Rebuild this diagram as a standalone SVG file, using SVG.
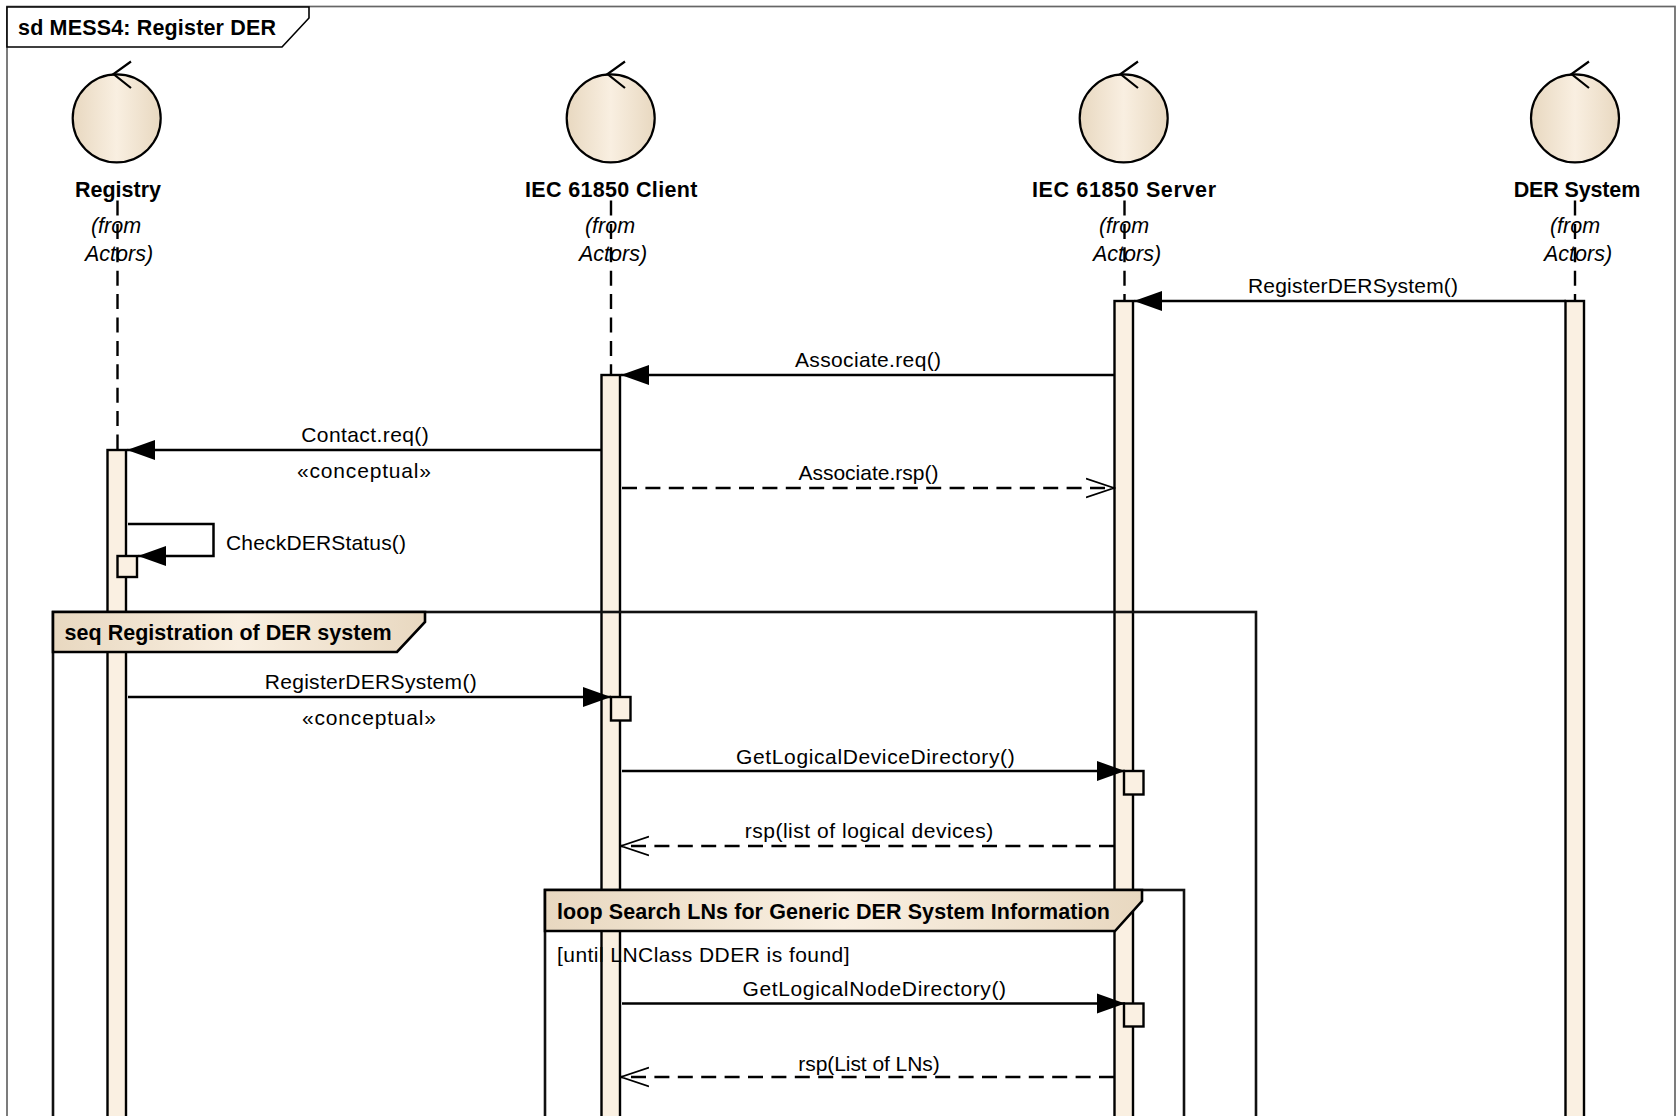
<svg xmlns="http://www.w3.org/2000/svg" width="1680" height="1116" viewBox="0 0 1680 1116">
<defs>
<linearGradient id="g"><stop offset="0" stop-color="#e8d8c0"/><stop offset="0.5" stop-color="#f9efe1"/><stop offset="1" stop-color="#e8d8c0"/></linearGradient>
<marker id="solid" markerUnits="userSpaceOnUse" markerWidth="30" markerHeight="24" refX="28" refY="11" orient="auto"><path d="M0 1 L28 11 L0 21 Z" fill="#000"/></marker>
<marker id="open" markerUnits="userSpaceOnUse" markerWidth="30" markerHeight="24" refX="28" refY="11" orient="auto"><path d="M0 1.500 L28 11 L0 20.500" fill="none" stroke="#000" stroke-width="1.700"/></marker>
</defs>
<style>
text{font-family:"Liberation Sans",Arial,sans-serif;fill:#000}
.t{font-size:21px}
.b{font-size:21.500px;font-weight:bold}
.i{font-size:21.500px;font-style:italic;text-anchor:middle}
.n{font-weight:bold;font-size:21.500px;text-anchor:middle}
.m{text-anchor:middle;font-size:21px}
.act{fill:#faf0e2;stroke:#000;stroke-width:2.400}
.ll{stroke:#000;stroke-width:2.400;stroke-dasharray:15 8.400;fill:none}
.msg{stroke:#000;stroke-width:2.500;fill:none;marker-end:url(#solid)}
.ret{stroke:#000;stroke-width:2.400;fill:none;stroke-dasharray:15 8.400;marker-end:url(#open)}
.hd{fill:url(#g);stroke:#000;stroke-width:2.600}
.fr{fill:none;stroke:#111;stroke-width:2.600}
.c{fill:url(#g);stroke:#000;stroke-width:2.200}
.a{stroke:#000;stroke-width:2.200;fill:none}
</style>
<rect x="7" y="6.500" width="1668" height="1125" fill="#fff" stroke="#666" stroke-width="1.700"/>
<g id="frame-sd"><path d="M7 7 H309 V18 L282 47 H7 Z" fill="#fff" stroke="#000" stroke-width="1.600"/><text x="18" y="35" class="b" textLength="258">sd MESS4: Register DER</text></g>

<g id="lifelines">
<path class="ll" d="M117.500 200.500V450"/><path class="ll" d="M611 200.500V375"/><path class="ll" d="M1124.500 200.500V301"/><path class="ll" d="M1575 200.500V301"/>
<rect class="act" x="107.500" y="450" width="18.500" height="700"/>
<rect class="act" x="601.500" y="375" width="18.500" height="770"/>
<rect class="act" x="1114.500" y="301" width="18.500" height="840"/>
<rect class="act" x="1565.500" y="301" width="18.500" height="840"/>
</g>

<g id="registry"><circle class="c" cx="116.700" cy="118.300" r="44"/><path class="a" d="M131 61.500 L113.500 74 L131 88"/><text class="n" x="118" y="197" textLength="86">Registry</text><text class="i" x="116" y="233">(from</text><text class="i" x="119" y="261">Actors)</text></g>
<g id="client"><circle class="c" cx="610.700" cy="118.300" r="44"/><path class="a" d="M625 61.500 L607.500 74 L625 88"/><text class="n" x="611.200" y="197" textLength="172.500">IEC 61850 Client</text><text class="i" x="610" y="233">(from</text><text class="i" x="613" y="261">Actors)</text></g>
<g id="server"><circle class="c" cx="1123.700" cy="118.300" r="44"/><path class="a" d="M1138 61.500 L1120.500 74 L1138 88"/><text class="n" x="1124" y="197" textLength="184">IEC 61850 Server</text><text class="i" x="1124" y="233">(from</text><text class="i" x="1127" y="261">Actors)</text></g>
<g id="der"><circle class="c" cx="1575" cy="118.300" r="44"/><path class="a" d="M1589 61.500 L1571.500 74 L1589 88"/><text class="n" x="1577" y="197" textLength="126.500">DER System</text><text class="i" x="1575" y="233">(from</text><text class="i" x="1578" y="261">Actors)</text></g>

<g id="seq-frame"><rect class="fr" x="53" y="612" width="1203" height="600"/><path class="hd" d="M53 612 H425 V622 L397 652 H53 Z"/><text x="64.500" y="640" class="b" textLength="327">seq Registration of DER system</text></g>

<g id="connectors">
<path class="msg" d="M1566 301H1134"/>
<path class="msg" d="M1114 375H621"/>
<path class="msg" d="M601 450H127"/>
<path class="ret" d="M622 488H1114"/>
<path class="msg" d="M128 524H213.500V556H138"/>
<path class="msg" d="M128 697H611"/>
<path class="msg" d="M622 771H1125"/>
<path class="ret" d="M1114 846H621"/>
<path class="msg" d="M622 1003.500H1125"/>
<path class="ret" d="M1114 1077H621"/>
</g>

<g id="small-boxes">
<rect class="act" x="117.500" y="556" width="19.500" height="21"/>
<rect class="act" x="611" y="697" width="19.500" height="23.500"/>
<rect class="act" x="1124" y="771" width="19.500" height="23.500"/>
<rect class="act" x="1124" y="1003.500" width="19.500" height="23"/>
</g>

<g id="loop-frame"><rect class="fr" x="545" y="890" width="639" height="300"/><path class="hd" d="M545 890 H1142 V901 L1115 931 H545 Z"/><text x="557" y="919" class="b" textLength="553">loop Search LNs for Generic DER System Information</text><text x="557" y="962" class="t" textLength="292.500">[until LNClass DDER is found]</text></g>

<g id="labels">
<text class="m" x="1353" y="293" textLength="210">RegisterDERSystem()</text>
<text class="m" x="868" y="367" textLength="146">Associate.req()</text>
<text class="m" x="365" y="442" textLength="127.500">Contact.req()</text>
<text class="m" x="364" y="478" textLength="134">«conceptual»</text>
<text class="m" x="868.400" y="480" textLength="140">Associate.rsp()</text>
<text x="226" y="550" class="t" textLength="180">CheckDERStatus()</text>
<text class="m" x="370.700" y="689" textLength="212">RegisterDERSystem()</text>
<text class="m" x="369" y="725" textLength="134">«conceptual»</text>
<text class="m" x="875.400" y="764" textLength="278.600">GetLogicalDeviceDirectory()</text>
<text class="m" x="869" y="838" textLength="248.600">rsp(list of logical devices)</text>
<text class="m" x="874.300" y="996" textLength="263.600">GetLogicalNodeDirectory()</text>
<text class="m" x="869" y="1071" textLength="141.400">rsp(List of LNs)</text>
</g>
</svg>
